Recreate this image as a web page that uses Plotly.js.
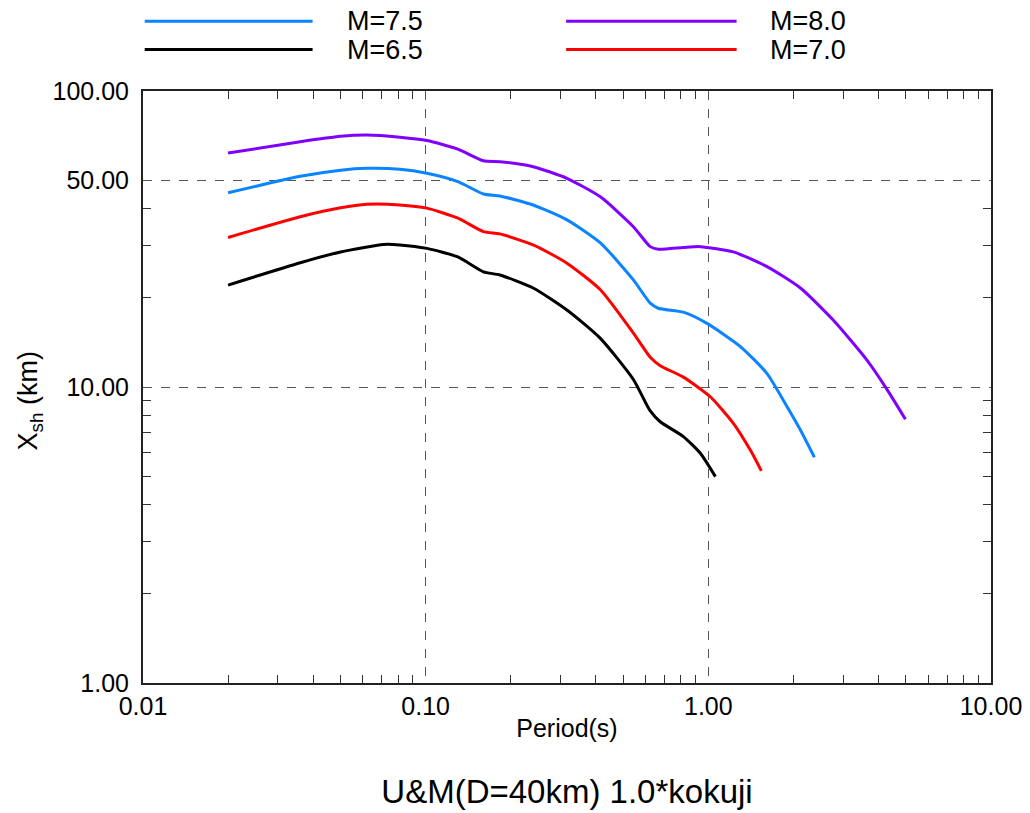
<!DOCTYPE html>
<html>
<head>
<meta charset="utf-8">
<script src="https://cdn.plot.ly/plotly-3.0.1.min.js"></script>
<style>html,body{margin:0;padding:0;background:#fff;}#chart{width:1030px;height:813px;}</style>
</head>
<body>
<div id="chart"></div>
<script>
// ---- data ----
const seriesNames = ["M=7.5", "M=8.0", "M=6.5", "M=7.0"];
const seriesColors = ["#0a84ff", "#8000ff", "#000000", "#ff0000"];

const periodM80 = [0.020, 0.036, 0.050, 0.062, 0.081, 0.101, 0.130, 0.160, 0.183, 0.240, 0.316, 0.415, 0.543, 0.623, 0.665, 0.816, 0.937, 1.226, 1.613, 2.117, 2.77, 3.645, 4.29, 4.98];
const xshM80   = [61.7, 67.4, 70.3, 71.0, 69.8, 68.0, 63.6, 58.1, 57.7, 55.5, 50.7, 43.9, 34.8, 29.8, 29.2, 29.6, 29.8, 28.6, 25.5, 21.6, 16.8, 12.3, 9.8, 7.78];

const periodM75 = [0.020, 0.036, 0.050, 0.062, 0.081, 0.101, 0.130, 0.160, 0.183, 0.240, 0.316, 0.415, 0.543, 0.623, 0.665, 0.816, 0.989, 1.298, 1.613, 1.899, 2.117, 2.373];
const xshM75   = [45.3, 51.5, 54.0, 54.8, 54.4, 52.7, 49.4, 44.9, 44.2, 41.2, 36.7, 30.7, 23.0, 19.2, 18.45, 17.9, 16.4, 13.7, 11.1, 8.58, 7.16, 5.79];

const periodM70 = [0.020, 0.036, 0.050, 0.062, 0.081, 0.101, 0.130, 0.160, 0.183, 0.240, 0.316, 0.415, 0.543, 0.623, 0.676, 0.816, 1.016, 1.226, 1.408, 1.54];
const xshM70   = [32.0, 37.6, 40.3, 41.4, 41.2, 40.2, 37.2, 33.5, 32.9, 30.2, 26.2, 21.3, 15.2, 12.6, 11.8, 10.8, 9.27, 7.54, 6.12, 5.21];

const periodM65 = [0.020, 0.036, 0.050, 0.071, 0.081, 0.101, 0.130, 0.160, 0.183, 0.240, 0.316, 0.415, 0.543, 0.623, 0.676, 0.816, 0.937, 1.059];
const xshM65   = [22.1, 26.3, 28.6, 30.3, 30.2, 29.4, 27.5, 24.5, 23.9, 21.6, 18.2, 14.6, 10.6, 8.30, 7.63, 6.80, 5.97, 4.98];

const xTickVals = [0.01, 0.1, 1, 10];
const xTickText = ["0.01", "0.10", "1.00", "10.00"];
const yTickVals = [1, 10, 50, 100];
const yTickText = ["1.00", "10.00", "50.00", "100.00"];
const minorDigits = [2, 3, 4, 5, 6, 7, 8, 9];
const xMinorVals = [0.01, 0.1, 1].flatMap(d => minorDigits.map(m => m * d));
const yMinorVals = minorDigits.map(m => m).concat([20, 30, 40]);

const titleText = "U&M(D=40km) 1.0*kokuji";
const xTitle = "Period(s)";
const yTitle = "X<sub>sh</sub> (km)";

// ---- traces ----
const seriesX = [periodM75, periodM80, periodM65, periodM70];
const seriesY = [xshM75, xshM80, xshM65, xshM70];
const traces = seriesNames.map((n, i) => ({
  x: seriesX[i], y: seriesY[i], name: n, type: "scatter", mode: "lines",
  line: {color: seriesColors[i], width: 3, shape: "spline", smoothing: 0.6}, showlegend: false
}));

const FONT = "Liberation Sans, Arial, sans-serif";

// custom legend (two columns, two rows) drawn as shapes + annotations in paper space
const legendPos = [
  {x0: 0.002, x1: 0.2, tx: 0.239, y: 1.118},
  {x0: 0.499, x1: 0.70, tx: 0.738, y: 1.118},
  {x0: 0.002, x1: 0.2, tx: 0.239, y: 1.070},
  {x0: 0.499, x1: 0.70, tx: 0.738, y: 1.070}
];
const shapes = legendPos.map((p, i) => ({
  type: "line", xref: "paper", yref: "paper", x0: p.x0, x1: p.x1, y0: p.y, y1: p.y,
  line: {color: seriesColors[i], width: 3}
}));
const annotations = legendPos.map((p, i) => ({
  xref: "paper", yref: "paper", x: p.tx, y: p.y, xanchor: "left", yanchor: "middle",
  text: seriesNames[i], showarrow: false, font: {family: FONT, size: 27, color: "#000"},
  borderpad: 0
}));
annotations.push({
  xref: "paper", yref: "paper", x: -0.133, y: 0.476, xanchor: "center", yanchor: "middle",
  textangle: -90, text: yTitle, showarrow: false, font: {family: FONT, size: 27, color: "#000"}
});

const axisCommon = {
  type: "log", showline: true, linecolor: "#222", linewidth: 2, mirror: "ticks",
  ticks: "", showgrid: true, gridcolor: "#555", griddash: "dash", gridwidth: 1,
  zeroline: false, tickfont: {family: FONT, size: 25, color: "#000"}
};

const layout = {
  width: 1030, height: 813,
  margin: {l: 143, r: 39, t: 91, b: 130},
  paper_bgcolor: "#fff", plot_bgcolor: "#fff",
  font: {family: FONT, color: "#000"},
  title: {text: titleText, font: {family: FONT, size: 33, color: "#000"},
          xref: "paper", x: 0.5, xanchor: "center", yref: "container", y: 0.026, yanchor: "middle"},
  xaxis: Object.assign({}, axisCommon, {
    range: [-2, 1], tickmode: "array", tickvals: xTickVals, ticktext: xTickText,
    ticklabelstandoff: 0,
    minor: {tickmode: "array", tickvals: xMinorVals, ticks: "inside", ticklen: 8, tickcolor: "#333", tickwidth: 1, showgrid: false},
    title: {text: xTitle, font: {family: FONT, size: 25, color: "#000"}, standoff: 0}
  }),
  yaxis: Object.assign({}, axisCommon, {
    range: [0, 2], tickmode: "array", tickvals: yTickVals, ticktext: yTickText,
    ticklabelstandoff: 7,
    minor: {tickmode: "array", tickvals: yMinorVals, ticks: "inside", ticklen: 8, tickcolor: "#333", tickwidth: 1, showgrid: false}
  }),
  shapes: shapes,
  annotations: annotations,
  showlegend: false
};

Plotly.newPlot("chart", traces, layout, {staticPlot: true, displayModeBar: false});
</script>
</body>
</html>
